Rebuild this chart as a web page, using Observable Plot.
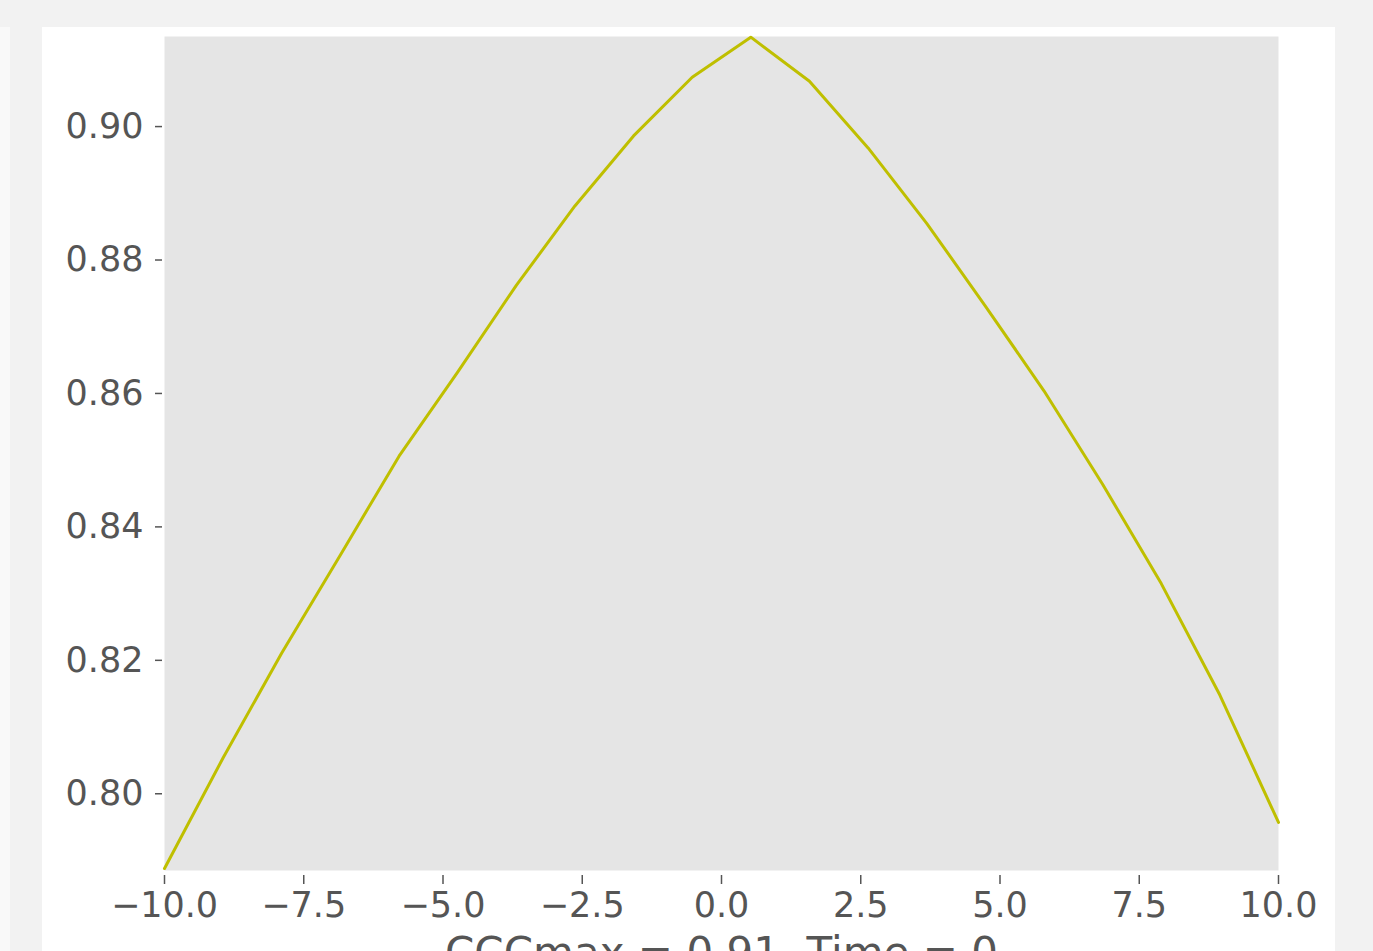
<!DOCTYPE html>
<html>
<head>
<meta charset="utf-8">
<script src="https://cdn.jsdelivr.net/npm/d3@7"></script>
<script src="https://cdn.jsdelivr.net/npm/@observablehq/plot@0.6"></script>
<style>
  html, body { margin: 0; padding: 0; width: 1373px; height: 951px; overflow: hidden; background: #f2f2f2; font-family: "DejaVu Sans", sans-serif; }
  #leftstrip { position: absolute; left: 0; top: 27px; width: 10px; height: 924px; background: #f9f9f9; }
  #panel { position: absolute; left: 42px; top: 27px; width: 1293px; height: 924px; background: #ffffff; overflow: hidden; }
</style>
</head>
<body>
<div id="leftstrip"></div>
<div id="panel"></div>
<script>
// Lag values (x) and cross-correlation values (y)
const lags = [-10, -8.947, -7.895, -6.842, -5.789, -4.737, -3.684, -2.632, -1.579, -0.526,
              0.526, 1.579, 2.632, 3.684, 4.737, 5.789, 6.842, 7.895, 8.947, 10];
const ccc = [0.7888, 0.8054, 0.8211, 0.8358, 0.8506, 0.8632, 0.8762, 0.8881, 0.8986, 0.9074,
             0.9134, 0.9068, 0.8968, 0.8855, 0.8731, 0.8604, 0.8464, 0.8315, 0.8148, 0.7957];
const xTicks = [-10, -7.5, -5, -2.5, 0, 2.5, 5, 7.5, 10];
const yTicks = [0.80, 0.82, 0.84, 0.86, 0.88, 0.90];
const xLabel = "CCCmax = 0.91, Time = 0";

const data = lags.map((x, i) => ({x, y: ccc[i]}));
const fmtX = d => (d < 0 ? "\u2212" : "") + Math.abs(d).toFixed(1);

const chart = Plot.plot({
  width: 1293,
  height: 924,
  marginLeft: 122,
  marginRight: 57,
  marginTop: 9,
  marginBottom: 81,
  style: {background: "white", fontFamily: "DejaVu Sans", overflow: "hidden"},
  x: {domain: [-10, 10]},
  y: {domain: [0.7885, 0.9135]},
  marks: [
    Plot.frame({fill: "#e5e5e5", stroke: null}),
    Plot.line(data, {x: "x", y: "y", stroke: "#bfbf00", strokeWidth: 3}),
    Plot.axisX({ticks: xTicks, tickFormat: fmtX, fontSize: 35, tickSize: 9, tickPadding: 8, dy: 5,
                color: "#555555", stroke: "#555555", strokeWidth: 1.5, label: null}),
    Plot.axisY({ticks: yTicks, tickFormat: d => d.toFixed(2), fontSize: 35, tickSize: 7, tickPadding: 12, dx: -2,
                color: "#555555", stroke: "#555555", strokeWidth: 1.5, label: null}),
    Plot.text([xLabel], {frameAnchor: "bottom", lineAnchor: "top", dy: 67, fontSize: 42, fill: "#555555", text: d => d})
  ]
});
document.getElementById("panel").appendChild(chart);
</script>
</body>
</html>
